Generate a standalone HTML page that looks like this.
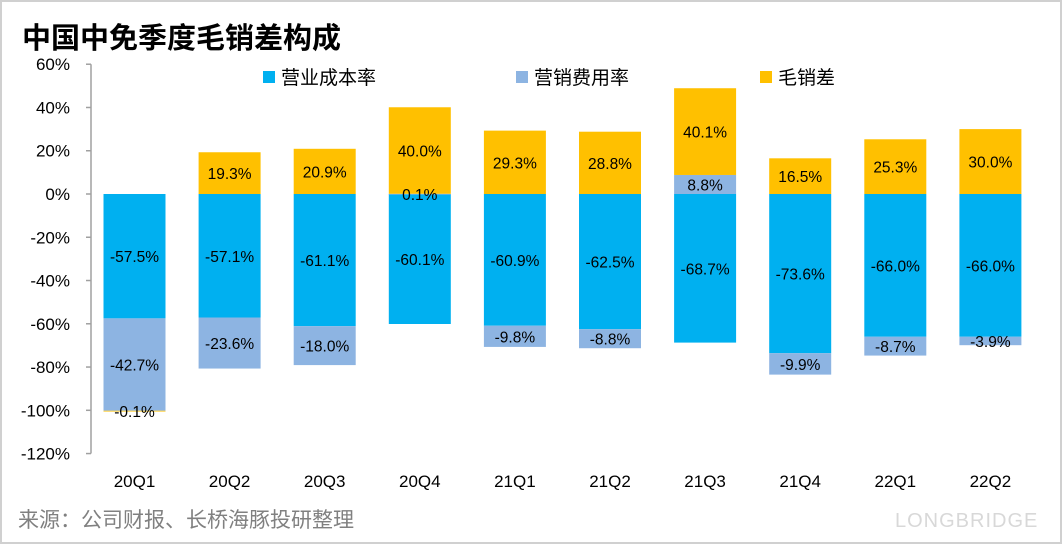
<!DOCTYPE html>
<html><head><meta charset="utf-8"><style>
body{margin:0;background:#fff}
#wrap{position:relative;width:1062px;height:544px;overflow:hidden;background:#fff;box-sizing:border-box;border:2px solid #d0d0d0}
svg text{font-family:"Liberation Sans","Noto Sans CJK SC",sans-serif}
</style></head><body>
<div id="wrap">
<svg id="chart" width="1062" height="544" style="position:absolute;left:-2px;top:-2px">
<text x="22" y="48" font-size="29" font-weight="bold" fill="#000">中国中免季度毛销差构成</text>
<text x="18" y="527" font-size="21" fill="#808080">来源：公司财报、长桥海豚投研整理</text>
<text x="895" y="527" font-size="20" fill="#d8d8d8" letter-spacing="1">LONGBRIDGE</text>
<g id="axes"></g><g id="bars"></g><g id="labels"></g><g id="legend"></g>
</svg>
</div>
<script>
const categories=["20Q1","20Q2","20Q3","20Q4","21Q1","21Q2","21Q3","21Q4","22Q1","22Q2"];
const costRate=[-57.5,-57.1,-61.1,-60.1,-60.9,-62.5,-68.7,-73.6,-66.0,-66.0];
const sellingRate=[-42.7,-23.6,-18.0,0.1,-9.8,-8.8,8.8,-9.9,-8.7,-3.9];
const grossSpread=[-0.1,19.3,20.9,40.0,29.3,28.8,40.1,16.5,25.3,30.0];
const yTicks=[60,40,20,0,-20,-40,-60,-80,-100,-120];
const seriesNames=["营业成本率","营销费用率","毛销差"];
const colors=["#00B0F0","#8DB4E2","#FFC000"];
const NS="http://www.w3.org/2000/svg";
const y0=194,pxPer=2.163;
function y(v){return y0-v*pxPer;}
function x(i){return 134.5+i*95.1;}
function mk(tag,attrs,parent,txt){const e=document.createElementNS(NS,tag);for(const k in attrs)e.setAttribute(k,attrs[k]);if(txt!==undefined)e.textContent=txt;parent.appendChild(e);return e;}
const axes=document.getElementById('axes'),bars=document.getElementById('bars'),labels=document.getElementById('labels'),leg=document.getElementById('legend');
const ax=mk('line',{x1:91,x2:91,y1:y(60),y2:y(-120),stroke:'#a0a0a0','stroke-width':1.5},axes);


yTicks.forEach(t=>{
  const tk=mk('line',{x1:86,x2:91,y1:y(t),y2:y(t),stroke:'#a0a0a0','stroke-width':1.5},axes);
  
  
  const lb=mk('text',{x:70,y:y(t)+6,'font-size':17,'text-anchor':'end',fill:'#000'},axes,t+'%');
  
  
});
const bw=62;
categories.forEach((c,i)=>{
  let pos=0,neg=0;
  const vals=[costRate[i],sellingRate[i],grossSpread[i]];
  vals.forEach((v,s)=>{
    let a,b;
    if(v>=0){a=pos;b=pos+v;pos=b;}else{a=neg;b=neg+v;neg=b;}
    const top=Math.min(y(a),y(b)),h=Math.abs(y(a)-y(b));
    const r=mk('rect',{x:x(i)-bw/2,y:top,width:bw,height:Math.max(h,0.8),fill:colors[s]},bars);
    
    
    const lbl=v.toFixed(1)+'%';
    const ly=(Math.abs(v)<1)?top+h/2+6:top+h/2+6;
    const t=mk('text',{x:x(i),y:ly,'font-size':15.5,'text-anchor':'middle',fill:'#000'},labels,lbl);
    
    
  });
  const xl=mk('text',{x:x(i),y:487,'font-size':17,'text-anchor':'middle',fill:'#000'},axes,c);
  
  
});
const lx=[263,516,760];
seriesNames.forEach((n,s)=>{
  const r=mk('rect',{x:lx[s],y:71,width:12,height:12,fill:colors[s]},leg);
  
  
  const t=mk('text',{x:lx[s]+18,y:84,'font-size':19,fill:'#000'},leg,n);
  
  
});
</script>
</body></html>
